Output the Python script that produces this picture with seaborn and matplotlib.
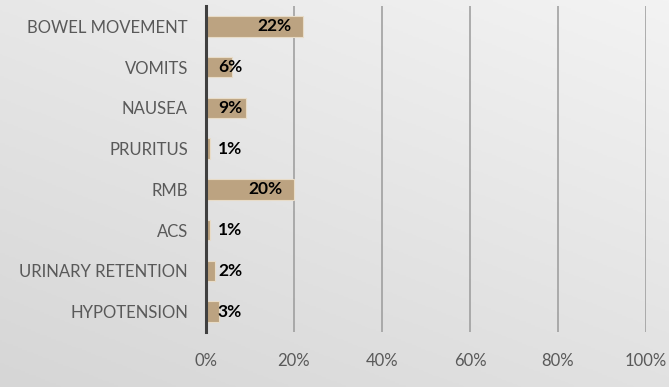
import numpy as np
import pandas as pd
import matplotlib
matplotlib.use("Agg")
import matplotlib.pyplot as plt
import seaborn as sns

categories = ["BOWEL MOVEMENT", "VOMITS", "NAUSEA", "PRURITUS", "RMB", "ACS",
              "URINARY RETENTION", "HYPOTENSION"]
values = [22, 6, 9, 1, 20, 1, 2, 3]
xticks = [0, 20, 40, 60, 80, 100]
xtick_labels = ["0%", "20%", "40%", "60%", "80%", "100%"]

sns.set_theme(style="white")
plt.rcParams["font.family"] = ["Lato", "DejaVu Sans"]

W, H = 669, 387
fig = plt.figure(figsize=(W / 100, H / 100), dpi=100)

# background gradient
bg = fig.add_axes([0, 0, 1, 1], zorder=-10)
yy, xx = np.mgrid[0:1:200j, 0:1:300j]
t = 0.6 * yy + 0.4 * (1 - xx)
bg.imshow(t, cmap=matplotlib.colors.LinearSegmentedColormap.from_list(
    "g", ["#f3f3f3", "#d6d6d6"]), aspect="auto", extent=[0, 1, 0, 1], origin="upper")
bg.axis("off")

ax = fig.add_axes([206 / W, 1 - 332 / H, 440 / W, 326 / H])
ax.patch.set_alpha(0)

df = pd.DataFrame({"cat": categories, "val": values})
sns.barplot(data=df, y="cat", x="val", orient="h", color="#bca381",
            saturation=1, width=0.5, ax=ax, edgecolor="#e8dcc8", linewidth=0.8)

ax.set_xlim(0, 100)
ax.set_ylim(len(categories) - 0.5, -0.5)
ax.set_xticks(xticks)
ax.set_xticklabels(xtick_labels)
ax.set_xlabel("")
ax.set_ylabel("")
for x in xticks[1:]:
    ax.axvline(x, color="#9a9a9a", lw=1.1, zorder=0)
for s in ["top", "right", "bottom"]:
    ax.spines[s].set_visible(False)
ax.spines["left"].set_color("#404040")
ax.spines["left"].set_linewidth(2.2)
ax.tick_params(axis="both", length=0, labelsize=12, colors="#595959")
ax.tick_params(axis="y", pad=13)
ax.tick_params(axis="x", pad=15)

for i, v in enumerate(values):
    if v >= 10:
        ax.text(v - 2.6, i, f"{v}%", ha="right", va="center",
                fontsize=12.5, fontweight="bold", color="black")
    else:
        ax.text(2.7, i, f"{v}%", ha="left", va="center",
                fontsize=12.5, fontweight="bold", color="black")

fig.savefig("out.png", dpi=100)
